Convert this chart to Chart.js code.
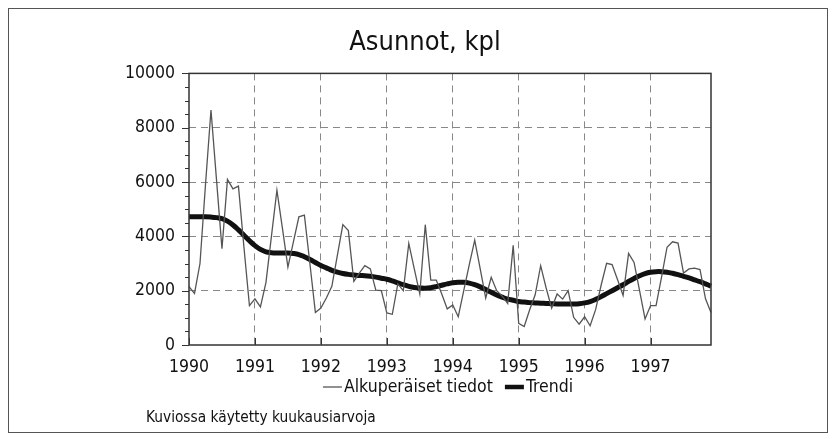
<!DOCTYPE html>
<html>
<head>
<meta charset="utf-8">
<script src="https://cdn.jsdelivr.net/npm/chart.js@4.4.1/dist/chart.umd.min.js"></script>
<style>
    html, body { margin: 0; padding: 0; background: #fff; }
</style>
</head>
<body>
<canvas id="asunnot" width="835" height="439"></canvas>
<script>
// yearly tick labels, data is monthly from Jan 1990 to Dec 1997
const years = [1990, 1991, 1992, 1993, 1994, 1995, 1996, 1997];
const yTicks = [0, 2000, 4000, 6000, 8000, 10000];

// Alkuperäiset tiedot (original monthly values)
const original = [
    2150, 1900, 3000, 5900, 8650, 6100, 3550, 6100, 5750, 5850, 3600, 1450,
    1700, 1400, 2300, 4000, 5700, 4300, 2870, 3800, 4720, 4780, 3000, 1200,
    1360, 1730, 2160, 3300, 4430, 4210, 2340, 2650, 2920, 2800, 2020, 2000,
    1180, 1130, 2250, 2000, 3740, 2800, 1880, 4430, 2390, 2390, 1880, 1330,
    1470, 1040, 2000, 2950, 3860, 2800, 1730, 2490, 2000, 1800, 1530, 3670,
    800, 680, 1300, 1850, 2920, 2100, 1360, 1880, 1690, 2000, 1020, 770,
    1040, 710, 1300, 2200, 3010, 2960, 2400, 1820, 3370, 3040, 2000, 960,
    1450, 1450, 2500, 3600, 3800, 3750, 2650, 2800, 2830, 2780, 1700, 1200
];

// Trendi
const trend = [
    4720, 4720, 4720, 4720, 4710, 4690, 4650, 4560, 4420, 4240, 4040, 3840,
    3660, 3520, 3430, 3400, 3390, 3390, 3390, 3370, 3330, 3250, 3150, 3040,
    2930, 2840, 2750, 2680, 2630, 2600, 2580, 2560, 2550, 2530, 2500, 2460,
    2420, 2360, 2290, 2220, 2160, 2120, 2100, 2090, 2110, 2150, 2200, 2250,
    2290, 2310, 2310, 2280, 2220, 2140, 2040, 1940, 1840, 1760, 1690, 1650,
    1600, 1580, 1560, 1550, 1540, 1530, 1520, 1510, 1510, 1510, 1510, 1520,
    1550, 1600, 1680, 1780, 1890, 2000, 2110, 2220, 2340, 2450, 2550, 2630,
    2680, 2700, 2700, 2680, 2640, 2590, 2530, 2470, 2400, 2330, 2250, 2170
];

const FONT = "'Liberation Sans Narrow', 'Arial Narrow', 'DejaVu Sans Condensed', sans-serif";

let months = [];
years.forEach((yr) => {
    for (let m = 1; m <= 12; m++) months.push(yr + '-' + m);
});

function line(ctx, x1, y1, x2, y2) {
    ctx.beginPath();
    ctx.moveTo(x1, y1);
    ctx.lineTo(x2, y2);
    ctx.stroke();
}

// plot frame, small tick marks, legend row, outer box and footnote
const framePlugin = {
    id: 'framePlugin',
    afterDraw(chart) {
        const ctx = chart.ctx;
        const a = chart.chartArea;
        const xs = chart.scales.x;
        const ys = chart.scales.y;
        ctx.save();
        ctx.strokeStyle = '#333';
        ctx.lineWidth = 1.5;
        ctx.strokeRect(a.left, a.top, a.right - a.left, a.bottom - a.top);

        ctx.lineWidth = 1;
        for (let v = 0; v <= 10000; v += 500) {
            const py = Math.round(ys.getPixelForValue(v)) + 0.5;
            const len = v % 2000 === 0 ? 7 : 4;
            line(ctx, a.left - len, py, a.left, py);
        }
        years.forEach((yr, i) => {
            const px = Math.round(xs.getPixelForValue(i * 12)) + 0.5;
            line(ctx, px, a.bottom, px, a.bottom - 7);
        });

        // legend: short line right before each label, like the original
        ctx.font = '17.5px ' + FONT;
        ctx.textBaseline = 'middle';
        ctx.fillStyle = '#111';
        const sets = chart.data.datasets;
        const lineW = 19, gap = 2, itemGap = 12;
        let total = 0;
        sets.forEach((ds, i) => {
            total += lineW + gap + ctx.measureText(ds.label).width + (i > 0 ? itemGap : 0);
        });
        let lx = 448 - total / 2;
        const ly = 387;
        sets.forEach((ds, i) => {
            if (i > 0) lx += itemGap;
            ctx.strokeStyle = ds.borderColor;
            ctx.lineWidth = i === 0 ? 1.3 : 4.5;
            line(ctx, lx, ly, lx + lineW, ly);
            lx += lineW + gap;
            ctx.fillText(ds.label, lx, ly);
            lx += ctx.measureText(ds.label).width;
        });

        ctx.lineWidth = 1;
        ctx.strokeStyle = '#555';
        ctx.strokeRect(8.5, 8.5, 819, 424);

        ctx.font = '15.3px ' + FONT;
        ctx.fillText('Kuviossa käytetty kuukausiarvoja', 146, 418);
        ctx.restore();
    }
};

const info = {
    labels: months,
    datasets: [{
        label: 'Alkuperäiset tiedot',
        data: original,
        borderColor: '#555',
        backgroundColor: '#555',
        borderWidth: 1.3,
        pointRadius: 0,
        tension: 0
    }, {
        label: 'Trendi',
        data: trend,
        borderColor: '#111',
        backgroundColor: '#111',
        borderWidth: 5,
        pointRadius: 0,
        tension: 0.4
    }]
};

const config = {
    type: 'line',
    data: info,
    options: {
        responsive: false,
        animation: false,
        layout: {
            padding: { left: 121, right: 106, top: 10, bottom: 49 }
        },
        plugins: {
            title: {
                display: true,
                text: 'Asunnot, kpl',
                color: '#111',
                font: { family: FONT, size: 27, weight: 'normal' },
                padding: { top: 17, bottom: 14 }
            },
            legend: { display: false },
            tooltip: { enabled: false }
        },
        scales: {
            x: {
                offset: false,
                grid: {
                    drawTicks: false,
                    color: (c) => (c.index % 12 === 0 && c.index > 0) ? '#888' : 'rgba(0,0,0,0)',
                    lineWidth: 1
                },
                border: { display: false, dash: [7, 5] },
                ticks: {
                    autoSkip: false,
                    maxRotation: 0,
                    padding: 12,
                    color: '#111',
                    font: { family: FONT, size: 17.5 },
                    callback: (v, i) => i % 12 === 0 ? years[i / 12] : ''
                }
            },
            y: {
                min: 0,
                max: 10000,
                afterFit: (scale) => { scale.width = 68; },
                afterBuildTicks: (scale) => { scale.ticks = yTicks.map((v) => ({ value: v })); },
                grid: {
                    drawTicks: false,
                    color: (c) => (c.tick.value > 0 && c.tick.value < 10000) ? '#888' : 'rgba(0,0,0,0)',
                    lineWidth: 1
                },
                border: { display: false, dash: [7, 5] },
                ticks: {
                    padding: 14,
                    color: '#111',
                    font: { family: FONT, size: 17.5 },
                    callback: (v) => String(v)
                }
            },
            // empty axis on the right, only keeps the title centred like the original
            side: {
                position: 'right',
                afterFit: (scale) => { scale.width = 18; },
                grid: { display: false },
                border: { display: false },
                ticks: { display: false }
            }
        }
    },
    plugins: [framePlugin]
};

const myChart = new Chart(
    document.getElementById('asunnot'),
    config
);
</script>
</body>
</html>
